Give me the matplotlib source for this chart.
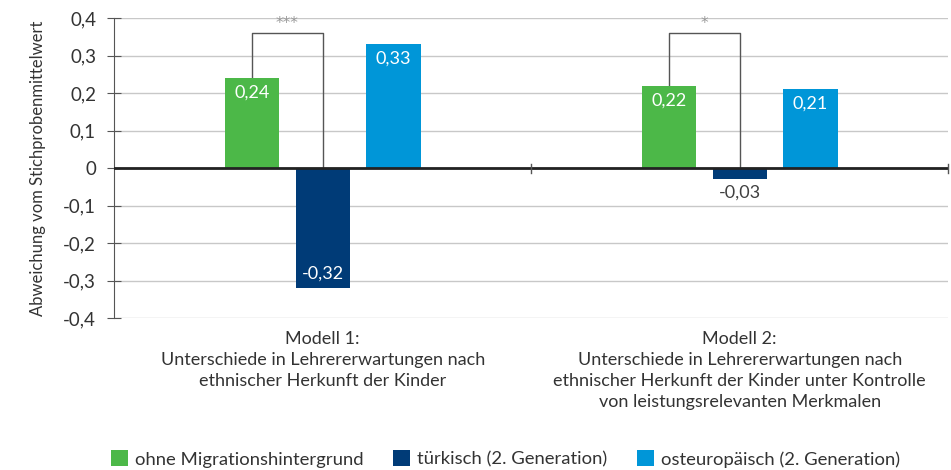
"""Lehrererwartungen nach ethnischer Herkunft - grouped bar chart."""

import matplotlib
matplotlib.use('Agg')
import matplotlib.pyplot as plt
import numpy as np

plt.rcParams['font.family'] = ['Lato', 'DejaVu Sans']

models = ['Modell 1:\nUnterschiede in Lehrererwartungen nach\nethnischer Herkunft der Kinder',
          'Modell 2:\nUnterschiede in Lehrererwartungen nach\nethnischer Herkunft der Kinder unter Kontrolle\nvon leistungsrelevanten Merkmalen']
groups = ['ohne Migrationshintergrund', 'türkisch (2. Generation)',
          'osteuropäisch (2. Generation)']
values = [[0.24, 0.22], [-0.32, -0.03], [0.33, 0.21]]
colors = ['#4cb848', '#003b77', '#0096d8']
stars = ['***', '*']
yticks = [-0.4, -0.3, -0.2, -0.1, 0, 0.1, 0.2, 0.3, 0.4]

TXT = '#333333'

fig = plt.figure(figsize=(9.51, 4.70), dpi=100)
ax = fig.add_axes([0.12, 0.3234, 0.877, 0.6383])

x = np.arange(len(models))
width = 0.13
step = 0.17
for i, (vals, col) in enumerate(zip(values, colors)):
    pos = x + (i - 1) * step
    ax.bar(pos, vals, width, color=col, label=groups[i], zorder=3)
    for p, v in zip(pos, vals):
        label = ('%.2f' % v).replace('.', ',')
        if abs(v) < 0.08:
            ax.text(p, v - 0.014, label, ha='center', va='top',
                    color='#404040', fontsize=13, zorder=4)
        elif v > 0:
            ax.text(p, v - 0.018, label, ha='center', va='top',
                    color='white', fontsize=13, zorder=4)
        else:
            ax.text(p, v + 0.018, label, ha='center', va='bottom',
                    color='white', fontsize=13, zorder=4)

# significance brackets between first and second group
for j, s in enumerate(stars):
    x0 = x[j] - step
    x1 = x[j]
    top = 0.36
    ax.plot([x0, x0, x1, x1], [values[0][j], top, top, 0],
            color='#555555', lw=1.0, zorder=2)
    ax.text((x0 + x1) / 2, top + 0.006, s, ha='center', va='bottom',
            color='#9a9a9a', fontsize=11, family='DejaVu Sans')

ax.set_xlim(-0.5, 1.5)
ax.set_ylim(-0.4, 0.4)
ax.set_yticks(yticks)
ax.set_yticklabels([('%.1f' % t).replace('.', ',') if t != 0 else '0'
                    for t in yticks], fontsize=13.5, color=TXT)
ax.set_xticks([])
ax.grid(axis='y', color='#c8c8c8', lw=1.0, zorder=0)
for side in ['top', 'right', 'bottom']:
    ax.spines[side].set_visible(False)
ax.spines['left'].set_color('#555555')
ax.tick_params(axis='y', direction='inout', length=10, color='#555555',
               pad=8)

# zero line with category separators
ax.axhline(0, color='#222222', lw=2, zorder=5)
for b in [0.5, 1.5]:
    ax.plot([b, b], [-0.012, 0.012], color='#555555', lw=1, zorder=5,
            clip_on=False)

for xi, m in zip(x, models):
    ax.text(xi, -0.435, m, ha='center', va='top', fontsize=13,
            color=TXT, linespacing=1.38)

ax.set_ylabel('Abweichung vom Stichprobenmittelwert', fontsize=12,
              color=TXT, labelpad=12)

ax.legend(loc='center', bbox_to_anchor=(0.469, -0.47), ncol=3,
          frameon=False, fontsize=13.3, handlelength=0.95, handleheight=0.95,
          columnspacing=1.6, handletextpad=0.35, labelcolor=TXT)

fig.savefig('out.png', dpi=100)
